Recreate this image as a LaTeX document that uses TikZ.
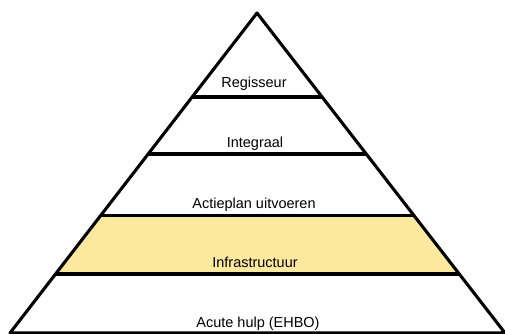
\documentclass[tikz,border=0pt]{standalone}
\usepackage{fontspec}
\setmainfont{Liberation Sans}
\usetikzlibrary{positioning,calc}
\definecolor{bandyellow}{RGB}{253,233,157}
\tikzstyle{layer} = [line width=2.2pt]
\tikzstyle{lbl} = [anchor=base, inner sep=0pt, font=\fontsize{10.3}{12}\selectfont]

\begin{document}
\begin{tikzpicture}[x=0.025cm, y=-0.025cm]
	\useasboundingbox (0,0) rectangle (505,334);
	\coordinate (top) at ( 257, 13 );
	\coordinate (bl) at ( 10, 333 );
	\coordinate (br) at ( 505, 333 );

	% layer ends on both sides
	\coordinate (l1) at ($(top)!0.2625!(bl)$);
	\coordinate (r1) at ($(top)!0.2625!(br)$);
	\coordinate (l2) at ($(top)!0.4406!(bl)$);
	\coordinate (r2) at ($(top)!0.4406!(br)$);
	\coordinate (l3) at ($(top)!0.634!(bl)$);
	\coordinate (r3) at ($(top)!0.634!(br)$);
	\coordinate (l4) at ($(top)!0.8156!(bl)$);
	\coordinate (r4) at ($(top)!0.8156!(br)$);

	\fill[bandyellow] (l3) -- (r3) -- (r4) -- (l4) -- cycle;

	\draw[layer] (l1) -- (r1);
	\draw[layer] (l2) -- (r2);
	\draw[layer] (l3) -- (r3);
	\draw[layer] (l4) -- (r4);
	\draw[layer, line join=round] (top) -- (bl) -- (br) -- cycle;

	\node[lbl] (regisseur) at ( 254, 88 ) {Regisseur};
	\node[lbl] (integraal) at ( 255, 148 ) {Integraal};
	\node[lbl] (actieplan) at ( 254, 208 ) {Actieplan uitvoeren};
	\node[lbl] (infra) at ( 255, 267 ) {Infrastructuur};
	\node[lbl] (acuut) at ( 258, 327 ) {Acute hulp (EHBO)};
\end{tikzpicture}
\end{document}
